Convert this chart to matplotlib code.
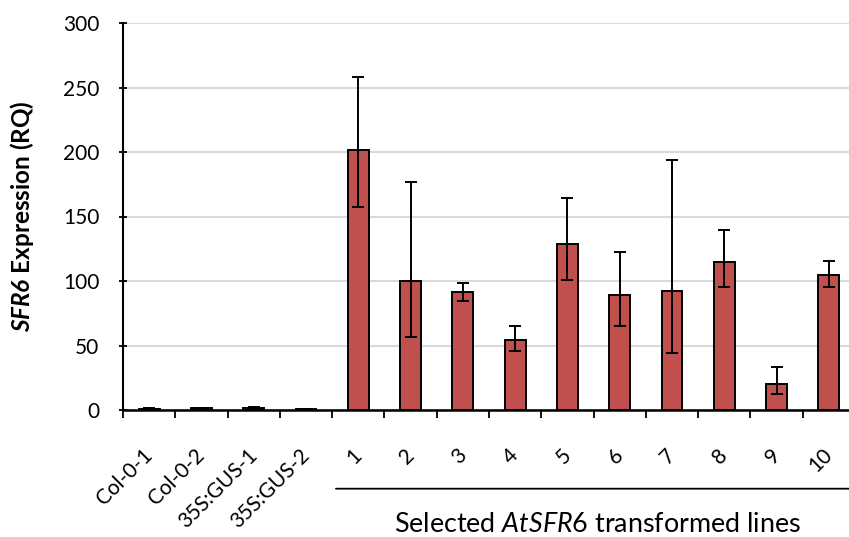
import matplotlib
matplotlib.use("Agg")
import matplotlib.pyplot as plt
import numpy as np

plt.rcParams['font.family'] = ['Lato', 'DejaVu Sans']
plt.rcParams['mathtext.fontset'] = 'custom'
plt.rcParams['mathtext.rm'] = 'Lato'
plt.rcParams['mathtext.it'] = 'Lato:italic'
plt.rcParams['mathtext.bf'] = 'Lato:bold'
plt.rcParams['mathtext.bfit'] = 'Lato:bold:italic'

categories = ["Col-0-1", "Col-0-2", "35S:GUS-1", "35S:GUS-2",
              "1", "2", "3", "4", "5", "6", "7", "8", "9", "10"]
expression = [1.0, 1.2, 1.6, 0.8,
              201.5, 100.0, 91.2, 54.3, 128.4, 89.1, 92.5, 115.0, 20.2, 104.7]
err_low = [0.4, 0.4, 0.8, 0.3,
           43.9, 43.4, 6.5, 8.6, 27.9, 24.3, 48.1, 19.4, 8.1, 9.1]
err_high = [0.4, 0.4, 0.8, 0.3,
            56.5, 76.5, 7.5, 10.6, 35.6, 33.6, 101.0, 24.3, 12.8, 10.8]
yticks = [0, 50, 100, 150, 200, 250, 300]

fig = plt.figure(figsize=(8.49, 5.37), dpi=100)
ax = fig.add_axes([123 / 849, 1 - 410 / 537, 732 / 849, 387 / 537])

x = np.arange(len(categories))
ax.bar(x, expression, width=0.4, color="#C0504D", edgecolor="black",
       linewidth=1.4, zorder=3)
ax.errorbar(x, expression, yerr=[err_low, err_high], fmt="none",
            ecolor="black", elinewidth=1.4, capsize=4.5, capthick=1.4, zorder=4)

ax.set_xlim(-0.5, len(categories) - 0.5)
ax.set_ylim(0, 300)
ax.set_yticks(yticks)
ax.yaxis.grid(True, color="#d9d9d9", linewidth=1.5, zorder=0)
ax.set_axisbelow(True)

for s in ["top", "right"]:
    ax.spines[s].set_visible(False)
ax.spines["left"].set_linewidth(1.5)
ax.spines["bottom"].set_linewidth(1.8)

ax.set_xticks(np.arange(len(categories) + 1) - 0.5)
ax.set_xticklabels([])
ax.tick_params(axis="x", length=6, width=1.3, direction="out")
ax.tick_params(axis="y", length=6, width=1.3, direction="inout",
               labelsize=15, pad=14)

# rotated category labels under each bar
for xi, lab in zip(x, categories):
    ax.text(xi - 0.13, -27, lab, rotation=45, ha="right", va="top",
            rotation_mode="anchor", fontsize=15, transform=ax.transData,
            clip_on=False)

fig.text(22 / 849, 1 - 216 / 537, r"$\mathbfit{SFR6}$ Expression (RQ)",
         fontsize=17.5, fontweight="bold", rotation=90,
         ha="center", va="center")

# bracket line under the transformed lines
ax.annotate("", xy=(3.52, -61), xytext=(14.0, -61), xycoords="data",
            arrowprops=dict(arrowstyle="-", color="black", linewidth=1.3),
            annotation_clip=False)
fig.text(597.5 / 849, 1 - 532 / 537,
         r"Selected $\mathit{AtSFR6}$ transformed lines",
         ha="center", va="baseline", fontsize=19.4)

fig.savefig("out.png", dpi=100)
